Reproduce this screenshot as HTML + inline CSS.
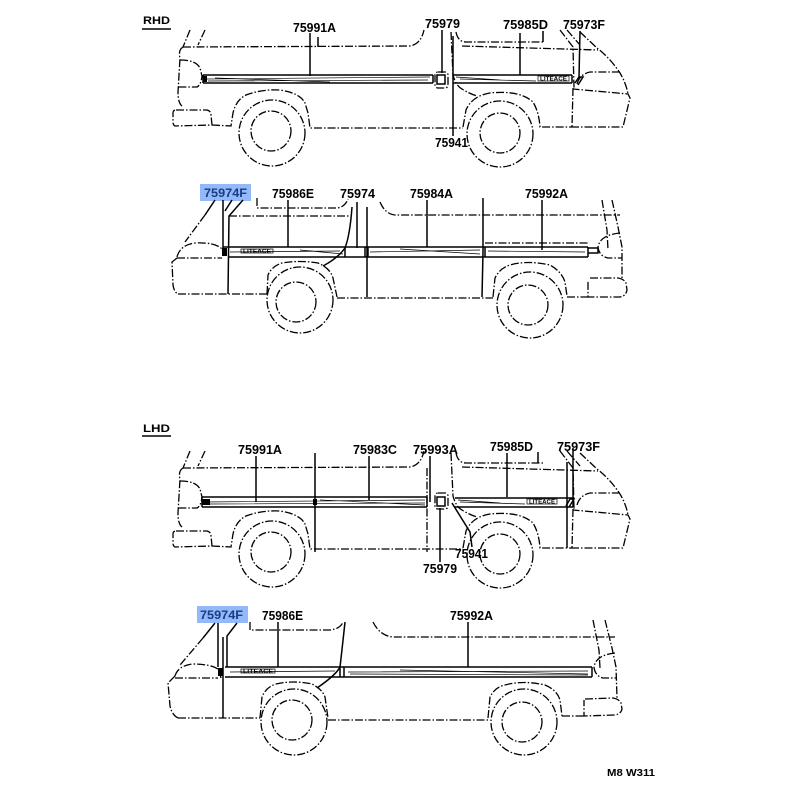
<!DOCTYPE html>
<html><head><meta charset="utf-8"><style>
html,body{margin:0;padding:0;background:#fff;}
svg{display:block}
.d{fill:none;stroke:#000;stroke-width:1.3;stroke-dasharray:8 2 1.5 2}
.s{fill:none;stroke:#000;stroke-width:1.5}
.th{fill:none;stroke:#000;stroke-width:0.7}
.t{font-family:"Liberation Sans",sans-serif;font-weight:bold;font-size:13px;fill:#000}
.tb{font-family:"Liberation Sans",sans-serif;font-weight:bold;font-size:12px;fill:#1a3b88}
.tm{font-family:"Liberation Sans",sans-serif;font-weight:bold;font-size:5px;fill:#000}
</style></head><body>
<svg width="800" height="800" viewBox="0 0 800 800" xmlns="http://www.w3.org/2000/svg">
<defs>
<g id="vA">
 <g class="d">
 <path d="M190,30 L183,47 M205,30 L198,45"/>
 <path d="M183,47 L410,46 Q421,44 424,30"/>
 <path d="M183,47 Q178,50 180,58 L178,92 Q178,103 182,106"/>
 <path d="M180,60 Q196,60 200,68 L202,76 Q201,85 197,87 L178,87"/>
 <path d="M176,110 L207,110 Q211,111 211,115 L212,125 L175,126 Q173,125 173,122 L173,113 Q173,110 176,110"/>
 <path d="M212,125 L231,126 L233,113 Q236,100 246,95 Q262,89 280,90 Q300,93 305,103 L308,113 L310,128 L463,128"/>
 <path d="M463,127 L466,110 Q472,96 490,93 Q520,90 533,102 Q539,112 540,127 L571,127"/>
 <path d="M571,127 L623,127 L630,98 L628,94 L573,89"/>
 <path d="M573,88 L572,127"/>
 <path d="M577,84 Q580,74 590,72 L620,72"/>
 <path d="M580,32 L597,48 Q610,58 620,73 Q626,83 628,94"/>
 <path d="M560,30 L573,47 L574,88 M567,30 L580,45"/>
 <path d="M462,46 L598,50"/>
 <path d="M456,32 Q458,42 466,42 L543,42"/>
 <path d="M451,32 L453,75 Q456,86 462,89 Q470,94 477,96"/>
 <circle cx="272" cy="133" r="33"/>
 <circle cx="271" cy="131" r="20"/>
 <circle cx="500" cy="134" r="33"/>
 <circle cx="500" cy="133" r="20"/>
 <rect x="435" y="72" width="13" height="16" rx="3"/>
 </g>
</g>
</defs>

<!-- ========== VAN 1 (RHD top) ========== -->
<text x="143" y="24" class="t" style="font-size:11px" textLength="27" lengthAdjust="spacingAndGlyphs">RHD</text>
<path class="s" d="M142,29 L171,29"/>
<use href="#vA"/>
<g class="s">
 <path d="M203,75 L433,75 M203,83 L433,83 M203,75 L203,83 M433,75 L433,83"/>
 <path d="M453,75 L572,75 M453,83 L572,83 M572,75 L572,83"/>
 <path d="M310,33 L310,76 M318,37 L318,47 M442,30 L442,73 M453,36 L453,136 M520,33 L520,75 M543,31 L543,42 M580,31 L579,78"/>
 <path d="M437,75 L445,75 L445,84 L437,84 Z"/>
 <path d="M575,83 L579,77 L583,77 L578,85"/>
</g>
<g class="th">
 <path d="M205,79 L430,77 M208,81 L428,80 M215,78 L330,82 M456,77 L500,80 M460,79 L536,81"/>
 <rect x="538" y="76" width="31" height="5"/>
</g>
<path d="M203,76 L207,76 L207,82 L203,82 Z" fill="#000"/>
<text x="540" y="80.5" class="tm" textLength="27" lengthAdjust="spacingAndGlyphs">LITEACE</text>
<text x="293" y="32" class="t" textLength="43" lengthAdjust="spacingAndGlyphs">75991A</text>
<text x="425" y="28" class="t" textLength="35" lengthAdjust="spacingAndGlyphs">75979</text>
<text x="503" y="29" class="t" textLength="45" lengthAdjust="spacingAndGlyphs">75985D</text>
<text x="563" y="29" class="t" textLength="42" lengthAdjust="spacingAndGlyphs">75973F</text>
<text x="435" y="147" class="t" textLength="33" lengthAdjust="spacingAndGlyphs">75941</text>

<!-- ========== VAN 2 (RHD bottom) ========== -->
<rect x="200" y="184" width="51" height="17" fill="#93b9f9"/>
<text x="204" y="197" class="tb" textLength="43" lengthAdjust="spacingAndGlyphs">75974F</text>
<text x="272" y="198" class="t" textLength="42" lengthAdjust="spacingAndGlyphs">75986E</text>
<text x="340" y="198" class="t" textLength="35" lengthAdjust="spacingAndGlyphs">75974</text>
<text x="410" y="198" class="t" textLength="43" lengthAdjust="spacingAndGlyphs">75984A</text>
<text x="525" y="198" class="t" textLength="43" lengthAdjust="spacingAndGlyphs">75992A</text>
<g class="d">
 <path d="M257,198 L257,208 L337,208 Q345,207 348,199"/>
 <path d="M229,216 L350,216"/>
 <path d="M380,202 Q385,214 395,215 L620,215"/>
 <path d="M602,200 L607,230 L608,250 M612,200 L618,227 L622,247 L622,278"/>
 <path d="M620,233 Q600,235 598,247 Q599,256 608,258 L622,258"/>
 <path d="M485,243 L588,243"/>
 <path d="M590,278 L618,278 Q624,279 626,283 L627,290 Q626,296 620,297 L588,297 L588,280"/>
 <path d="M567,297 L588,297"/>
 <path d="M493,297 L495,278 Q500,268 510,265 Q527,260 550,265 Q562,272 565,282 L567,296"/>
 <path d="M337,298 L493,298"/>
 <path d="M267,294 L268,275 Q272,266 282,263 Q300,260 318,263 Q330,268 333,278 L337,297"/>
 <path d="M178,294 L267,294"/>
 <path d="M177,258 L172,262 L173,285 Q174,292 178,294"/>
 <path d="M177,257 Q180,245 195,243 Q215,242 222,249 L224,256"/>
 <path d="M177,258 L222,258"/>
 <path d="M205,215 L185,242"/>
 <circle cx="300" cy="300" r="33"/>
 <circle cx="296" cy="302" r="20"/>
 <circle cx="530" cy="305" r="33"/>
 <circle cx="528" cy="305" r="20"/>
</g>
<g class="s">
 <path d="M215,200 L205,215"/>
 <path d="M243,200 L229,216 L228,294"/>
 <path d="M223,200 L223,252 M232,200 L225,211 M288,200 L288,247 M357,202 L357,248 M427,200 L427,247 M542,200 L542,250 M483,198 L483,252 L482,297"/>
 <path d="M352,207 Q350,235 345,248 Q338,258 323,266"/>
 <path d="M367,207 L367,297"/>
 <path d="M223,247 L588,247 M228,257 L588,257 M345,247 L345,257 M365,247 L365,257 M368,247 L368,257 M485,247 L485,257 M588,247 L588,257"/>
 <path d="M588,248 L598,248 L598,253 L588,253"/>
</g>
<g class="th">
 <path d="M230,252 L340,251 M370,252 L480,250 M488,251 L585,252 M300,250 L343,254 M400,249 L480,254"/>
 <rect x="241" y="249" width="32" height="4"/>
</g>
<path d="M222,248 L227,248 L227,256 L222,256 Z" fill="#000"/>
<text x="243" y="253" class="tm" textLength="28" lengthAdjust="spacingAndGlyphs">LITEACE</text>

<!-- ========== VAN 3 (LHD top) ========== -->
<text x="143" y="432" class="t" style="font-size:11px" textLength="27" lengthAdjust="spacingAndGlyphs">LHD</text>
<path class="s" d="M142,436 L171,436"/>
<use href="#vA" transform="translate(0,421)"/>
<g class="s">
 <path d="M202,497 L427,497 M202,507 L427,507 M202,497 L202,507 M427,497 L427,507"/>
 <path d="M455,498 L573,498 M455,507 L573,507 M573,498 L573,507"/>
 <path d="M256,456 L256,502 M315,453 L315,552 M369,456 L369,500 M430,456 L430,502 M507,453 L507,497 M538,452 L538,463 M573,448 L573,500 M567,462 L567,548"/>
 <path d="M452,503 L470,532 L472,547 M440,508 L440,562"/>
 <path d="M437,497 L445,497 L445,506 L437,506 Z"/>
 <path d="M566,506 L570,499 L574,499 L569,507"/>
</g>
<path class="d" d="M427,468 L427,552"/>
<g class="th">
 <path d="M205,502 L425,500 M210,504 L425,503 M320,500 L425,505 M458,500 L500,503 M460,502 L525,504"/>
 <rect x="527" y="499" width="30" height="5"/>
</g>
<path d="M202,499 L210,499 L210,505 L202,505 Z M313,499 L317,499 L317,505 L313,505 Z" fill="#000"/>
<text x="529" y="503.5" class="tm" textLength="26" lengthAdjust="spacingAndGlyphs">LITEACE</text>
<text x="238" y="454" class="t" textLength="44" lengthAdjust="spacingAndGlyphs">75991A</text>
<text x="353" y="454" class="t" textLength="44" lengthAdjust="spacingAndGlyphs">75983C</text>
<text x="413" y="454" class="t" textLength="45" lengthAdjust="spacingAndGlyphs">75993A</text>
<text x="490" y="451" class="t" textLength="43" lengthAdjust="spacingAndGlyphs">75985D</text>
<text x="557" y="451" class="t" textLength="43" lengthAdjust="spacingAndGlyphs">75973F</text>
<text x="455" y="558" class="t" textLength="33" lengthAdjust="spacingAndGlyphs">75941</text>
<text x="423" y="573" class="t" textLength="34" lengthAdjust="spacingAndGlyphs">75979</text>

<!-- ========== VAN 4 (LHD bottom) ========== -->
<rect x="197" y="606" width="51" height="17" fill="#93b9f9"/>
<text x="200" y="619" class="tb" textLength="43" lengthAdjust="spacingAndGlyphs">75974F</text>
<text x="262" y="620" class="t" textLength="41" lengthAdjust="spacingAndGlyphs">75986E</text>
<text x="450" y="620" class="t" textLength="43" lengthAdjust="spacingAndGlyphs">75992A</text>
<g class="d">
 <path d="M250,622 L250,630 L330,630 Q340,629 343,622"/>
 <path d="M373,622 Q380,636 393,637 L615,637"/>
 <path d="M593,620 L599,650 L600,668 M605,620 L612,648 L616,667 L617,698"/>
 <path d="M615,653 Q596,655 594,667 Q595,676 603,678 L617,678"/>
 <path d="M585,699 L613,698 Q619,699 621,703 L622,709 Q621,714 615,715 L584,716 L584,700"/>
 <path d="M562,716 L584,716"/>
 <path d="M488,718 L490,697 Q495,687 505,685 Q523,680 545,685 Q557,690 560,700 L562,716"/>
 <path d="M328,720 L488,720"/>
 <path d="M260,718 L262,697 Q266,687 276,684 Q293,680 312,684 Q322,689 325,697 L328,718"/>
 <path d="M178,718 L260,718"/>
 <path d="M175,676 L168,683 L170,706 Q172,715 178,718"/>
 <path d="M175,676 Q178,666 192,664 Q212,664 219,670 L221,678"/>
 <path d="M175,678 L218,678"/>
 <path d="M203,638 L180,665"/>
 <circle cx="294" cy="722" r="33"/>
 <circle cx="292" cy="720" r="20"/>
 <circle cx="524" cy="722" r="33"/>
 <circle cx="522" cy="722" r="20"/>
</g>
<g class="s">
 <path d="M215,623 L203,638 M218,623 L218,667 M237,623 L227,636 L227,667 M223,637 L223,718"/>
 <path d="M345,622 Q342,650 340,667 Q336,675 317,688"/>
 <path d="M278,622 L278,667 M468,622 L468,667"/>
 <path d="M225,667 L592,667 M225,677 L592,677 M340,667 L340,677 M344,667 L344,677 M592,667 L592,677"/>
</g>
<g class="th">
 <path d="M230,672 L335,671 M348,672 L588,671 M350,674 L588,675 M400,670 L588,674"/>
 <rect x="241" y="669" width="34" height="4"/>
</g>
<path d="M218,668 L223,668 L223,676 L218,676 Z" fill="#000"/>
<text x="243" y="673" class="tm" textLength="30" lengthAdjust="spacingAndGlyphs">LITEACE</text>

<text x="607" y="776" class="t" style="font-size:10px" textLength="48" lengthAdjust="spacingAndGlyphs">M8  W311</text>
</svg>
</body></html>
